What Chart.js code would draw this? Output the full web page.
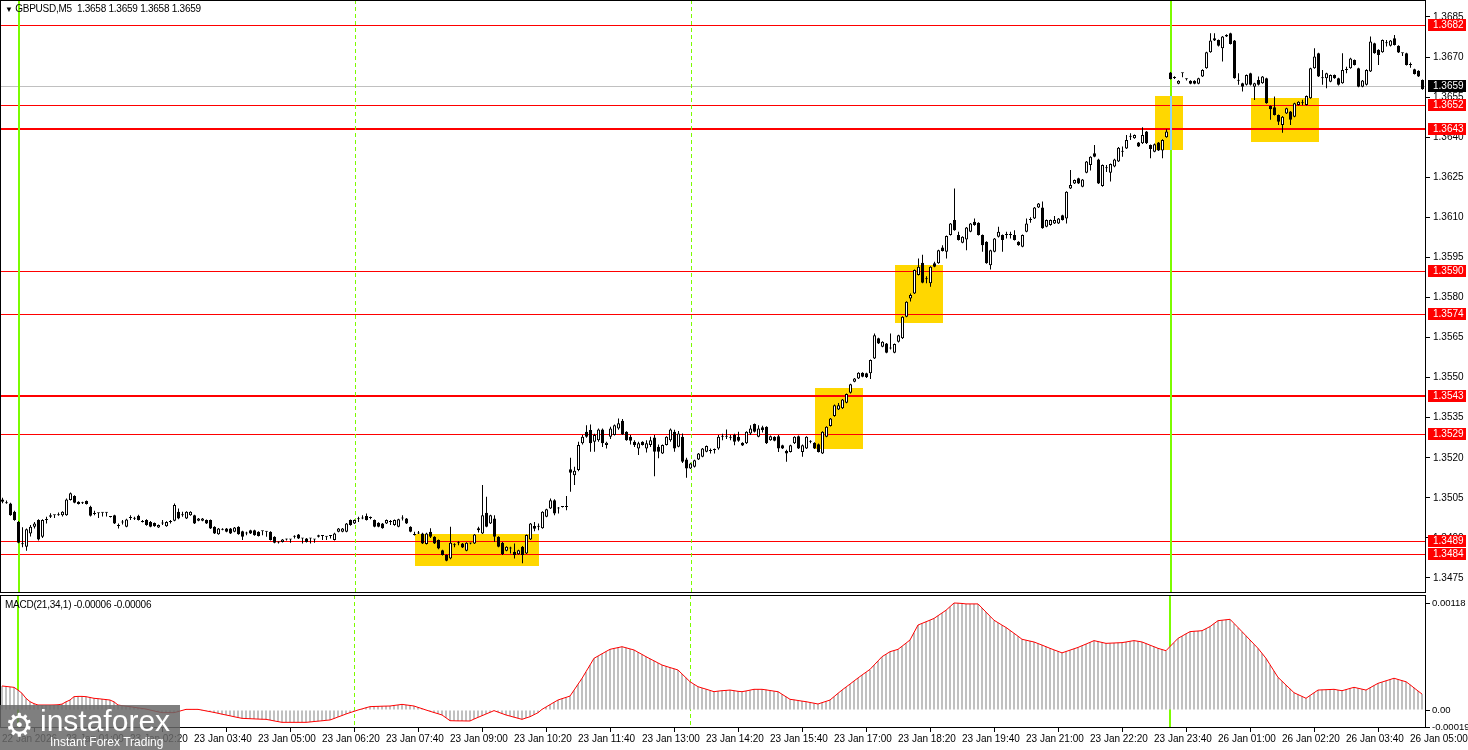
<!DOCTYPE html>
<html>
<head>
<meta charset="utf-8">
<title>GBPUSD M5</title>
<script src="https://cdn.jsdelivr.net/npm/chart.js@4.4.1/dist/chart.umd.min.js"></script>
<style>
  body { margin:0; background:#fff; width:1468px; height:750px; overflow:hidden; position:relative;
         font-family:"Liberation Sans", Arial, sans-serif; }
  canvas { position:absolute; left:0; }
  #priceChart { top:0; }
  #macdChart { top:594px; }
  .caption { position:absolute; font-size:10px; color:#000; white-space:pre; letter-spacing:-0.25px; }
  #logo { position:absolute; left:0; top:705px; width:180px; height:45px; background:rgba(105,105,105,0.85); color:#fff; }
  #logo .gear { position:absolute; left:5px; top:3px; font-size:32px; line-height:34px; font-family:"DejaVu Sans", sans-serif; }
  #logo .brand { position:absolute; left:40px; top:1px; font-size:30px; line-height:30px; }
  #logo .tag { position:absolute; left:50px; top:30px; font-size:12px; line-height:14px; }
</style>
</head>
<body>
<canvas id="priceChart" width="1468" height="594"></canvas>
<canvas id="macdChart" width="1468" height="156"></canvas>
<div class="caption" style="left:5px;top:3px;"><span style="font-size:8px">&#9660;</span> GBPUSD,M5  1.3658 1.3659 1.3658 1.3659</div>
<div class="caption" style="left:5px;top:599px;">MACD(21,34,1) -0.00006 -0.00006</div>
<div id="logo"><span class="gear">&#9881;</span><span class="brand">instaforex</span><span class="tag">Instant Forex Trading</span></div>
<script>
// --- DATA: GBPUSD M5 bars (22 Jan 23:40 .. 26 Jan 05:15) ---
const open = [
1.35044,1.35032,1.35029,1.34998,1.34960,1.34880,1.34867,1.34917,1.34942,1.34967,
1.34904,1.34967,1.34979,1.34985,1.34985,1.34985,1.34985,1.35042,1.35057,1.35035,
1.35030,1.35038,1.35017,1.34990,1.34992,1.34994,1.34994,1.34980,1.34985,1.34945,
1.34958,1.34942,1.34975,1.34972,1.34983,1.34960,1.34967,1.34960,1.34956,1.34939,
1.34954,1.34944,1.34960,1.34964,1.34998,1.34985,1.34973,1.34985,1.34985,1.34964,
1.34964,1.34967,1.34967,1.34942,1.34914,1.34933,1.34935,1.34935,1.34923,1.34942,
1.34925,1.34917,1.34929,1.34929,1.34923,1.34925,1.34923,1.34923,1.34904,1.34885,
1.34885,1.34894,1.34894,1.34904,1.34913,1.34898,1.34898,1.34898,1.34894,1.34904,
1.34907,1.34904,1.34907,1.34892,1.34923,1.34923,1.34923,1.34967,1.34954,1.34970,
1.34973,1.34982,1.34977,1.34967,1.34957,1.34954,1.34954,1.34960,1.34948,1.34942,
1.34973,1.34973,1.34942,1.34911,1.34917,1.34917,1.34877,1.34923,1.34904,1.34892,
1.34854,1.34836,1.34823,1.34873,1.34880,1.34879,1.34852,1.34879,1.34879,1.34929,
1.34917,1.34994,1.34954,1.34973,1.34904,1.34882,1.34852,1.34860,1.34848,1.34839,
1.34867,1.34842,1.34894,1.34945,1.34942,1.34936,1.34979,1.35010,1.35041,1.35010,
1.35016,1.35016,1.35157,1.35135,1.35154,1.35254,1.35297,1.35304,1.35260,1.35266,
1.35306,1.35248,1.35279,1.35285,1.35310,1.35339,1.35297,1.35279,1.35260,1.35235,
1.35260,1.35235,1.35248,1.35276,1.35241,1.35216,1.35248,1.35266,1.35297,1.35241,
1.35279,1.35194,1.35160,1.35166,1.35194,1.35204,1.35223,1.35225,1.35229,1.35235,
1.35279,1.35279,1.35275,1.35285,1.35279,1.35256,1.35254,1.35291,1.35326,1.35279,
1.35314,1.35316,1.35266,1.35279,1.35281,1.35247,1.35225,1.35222,1.35254,1.35281,
1.35222,1.35235,1.35260,1.35256,1.35251,1.35216,1.35279,1.35319,1.35356,1.35381,
1.35385,1.35406,1.35443,1.35485,1.35497,1.35518,1.35516,1.35516,1.35572,1.35647,
1.35616,1.35628,1.35609,1.35593,1.35634,1.35647,1.35728,1.35796,1.35815,1.35884,
1.35930,1.35868,1.35853,1.35928,1.35928,1.35987,1.35971,1.36034,1.36090,1.36034,
1.36005,1.36017,1.36046,1.36084,1.36080,1.36034,1.36009,1.35921,1.35971,1.36027,
1.36034,1.36034,1.36034,1.36034,1.36009,1.35990,1.36046,1.36090,1.36096,1.36137,
1.36137,1.36065,1.36071,1.36077,1.36077,1.36108,1.36096,1.36208,1.36227,1.36246,
1.36215,1.36267,1.36296,1.36340,1.36317,1.36217,1.36284,1.36267,1.36290,1.36309,
1.36346,1.36358,1.36402,1.36396,1.36380,1.36377,1.36421,1.36371,1.36346,1.36380,
1.36350,1.36400,1.36642,1.36624,1.36600,1.36639,1.36617,1.36611,1.36611,1.36600,
1.36627,1.36658,1.36718,1.36770,1.36764,1.36733,1.36777,1.36789,1.36762,1.36611,
1.36602,1.36596,1.36639,1.36589,1.36614,1.36602,1.36621,1.36517,1.36512,1.36483,
1.36446,1.36489,1.36496,1.36477,1.36521,1.36527,1.36521,1.36546,1.36658,1.36714,
1.36621,1.36621,1.36608,1.36633,1.36621,1.36602,1.36652,1.36658,1.36689,1.36658,
1.36589,1.36596,1.36646,1.36752,1.36727,1.36718,1.36752,1.36742,1.36770,1.36742,
1.36714,1.36714,1.36670,1.36654,1.36649,1.36614
];
const high = [
1.35050,1.35040,1.35032,1.35002,1.34963,1.34940,1.34935,1.34948,1.34960,1.34970,
1.34970,1.34979,1.34992,1.34987,1.34995,1.35000,1.35048,1.35070,1.35060,1.35037,
1.35035,1.35040,1.35020,1.35002,1.34994,1.34996,1.34996,1.34982,1.34987,1.34954,
1.34967,1.34972,1.34985,1.34979,1.34987,1.34967,1.34970,1.34963,1.34958,1.34950,
1.34967,1.34962,1.34967,1.35029,1.35010,1.34998,1.35000,1.35000,1.34987,1.34975,
1.34975,1.34969,1.34969,1.34944,1.34937,1.34936,1.34937,1.34937,1.34941,1.34944,
1.34927,1.34923,1.34931,1.34931,1.34925,1.34927,1.34925,1.34925,1.34906,1.34887,
1.34896,1.34897,1.34896,1.34910,1.34915,1.34900,1.34900,1.34900,1.34896,1.34912,
1.34909,1.34906,1.34909,1.34919,1.34937,1.34937,1.34956,1.34969,1.34969,1.34979,
1.34985,1.34991,1.34980,1.34969,1.34959,1.34956,1.34969,1.34967,1.34969,1.34972,
1.34985,1.34975,1.34944,1.34923,1.34926,1.34919,1.34919,1.34936,1.34906,1.34894,
1.34856,1.34838,1.34942,1.34880,1.34888,1.34881,1.34884,1.34882,1.34915,1.34942,
1.35098,1.35054,1.34987,1.34985,1.34906,1.34885,1.34869,1.34867,1.34879,1.34856,
1.34870,1.34913,1.34956,1.34960,1.34954,1.35000,1.35009,1.35048,1.35045,1.35016,
1.35018,1.35057,1.35200,1.35166,1.35260,1.35285,1.35322,1.35325,1.35290,1.35310,
1.35310,1.35260,1.35316,1.35325,1.35347,1.35345,1.35299,1.35285,1.35266,1.35260,
1.35262,1.35266,1.35279,1.35285,1.35250,1.35250,1.35281,1.35310,1.35305,1.35300,
1.35291,1.35200,1.35181,1.35193,1.35218,1.35237,1.35246,1.35235,1.35235,1.35285,
1.35290,1.35306,1.35285,1.35290,1.35297,1.35258,1.35299,1.35322,1.35328,1.35322,
1.35320,1.35318,1.35283,1.35281,1.35285,1.35249,1.35230,1.35249,1.35281,1.35283,
1.35250,1.35281,1.35266,1.35258,1.35253,1.35299,1.35318,1.35349,1.35399,1.35405,
1.35420,1.35441,1.35477,1.35499,1.35520,1.35520,1.35518,1.35568,1.35665,1.35649,
1.35636,1.35630,1.35665,1.35628,1.35661,1.35730,1.35786,1.35815,1.35905,1.35946,
1.35960,1.35880,1.35917,1.35934,1.35979,1.35996,1.36032,1.36079,1.36208,1.36046,
1.36029,1.36064,1.36079,1.36096,1.36082,1.36036,1.36011,1.35979,1.36023,1.36065,
1.36036,1.36046,1.36046,1.36052,1.36011,1.36036,1.36096,1.36100,1.36139,1.36154,
1.36159,1.36092,1.36092,1.36105,1.36098,1.36110,1.36198,1.36277,1.36242,1.36248,
1.36244,1.36311,1.36329,1.36371,1.36319,1.36298,1.36296,1.36302,1.36319,1.36363,
1.36365,1.36408,1.36415,1.36410,1.36382,1.36437,1.36423,1.36373,1.36376,1.36382,
1.36392,1.36430,1.36644,1.36628,1.36613,1.36641,1.36620,1.36613,1.36613,1.36623,
1.36654,1.36720,1.36789,1.36789,1.36766,1.36779,1.36785,1.36791,1.36764,1.36639,
1.36604,1.36635,1.36641,1.36604,1.36627,1.36629,1.36623,1.36519,1.36552,1.36485,
1.36479,1.36510,1.36498,1.36529,1.36535,1.36540,1.36556,1.36660,1.36733,1.36716,
1.36652,1.36641,1.36635,1.36635,1.36623,1.36714,1.36664,1.36697,1.36691,1.36660,
1.36614,1.36654,1.36777,1.36754,1.36729,1.36766,1.36764,1.36764,1.36783,1.36744,
1.36716,1.36716,1.36680,1.36656,1.36651,1.36616
];
const low = [
1.35030,1.35028,1.34983,1.34964,1.34880,1.34865,1.34852,1.34905,1.34935,1.34890,
1.34900,1.34954,1.34975,1.34975,1.34983,1.34980,1.34983,1.35040,1.35030,1.35025,
1.35027,1.35025,1.34980,1.34985,1.34975,1.34980,1.34980,1.34976,1.34952,1.34935,
1.34950,1.34940,1.34967,1.34967,1.34965,1.34958,1.34946,1.34940,1.34942,1.34937,
1.34948,1.34942,1.34954,1.34962,1.34970,1.34979,1.34971,1.34983,1.34952,1.34962,
1.34962,1.34952,1.34933,1.34915,1.34912,1.34929,1.34921,1.34915,1.34921,1.34912,
1.34892,1.34910,1.34915,1.34908,1.34905,1.34910,1.34904,1.34890,1.34880,1.34879,
1.34883,1.34890,1.34882,1.34898,1.34896,1.34879,1.34883,1.34879,1.34882,1.34902,
1.34892,1.34892,1.34898,1.34890,1.34921,1.34921,1.34921,1.34946,1.34952,1.34960,
1.34970,1.34965,1.34970,1.34940,1.34940,1.34934,1.34952,1.34948,1.34946,1.34940,
1.34965,1.34952,1.34921,1.34909,1.34915,1.34877,1.34875,1.34900,1.34877,1.34858,
1.34834,1.34813,1.34820,1.34865,1.34873,1.34862,1.34850,1.34876,1.34877,1.34920,
1.34915,1.34940,1.34952,1.34886,1.34865,1.34836,1.34850,1.34842,1.34823,1.34837,
1.34805,1.34840,1.34892,1.34925,1.34929,1.34934,1.34977,1.35008,1.34985,1.34991,
1.35014,1.35004,1.35073,1.35098,1.35150,1.35250,1.35275,1.35223,1.35223,1.35260,
1.35240,1.35235,1.35270,1.35283,1.35305,1.35285,1.35264,1.35250,1.35240,1.35210,
1.35246,1.35220,1.35240,1.35131,1.35198,1.35214,1.35246,1.35260,1.35223,1.35239,
1.35180,1.35125,1.35158,1.35164,1.35192,1.35202,1.35221,1.35216,1.35216,1.35230,
1.35266,1.35270,1.35266,1.35247,1.35260,1.35244,1.35252,1.35285,1.35295,1.35277,
1.35295,1.35252,1.35264,1.35262,1.35222,1.35233,1.35185,1.35220,1.35252,1.35233,
1.35204,1.35233,1.35254,1.35233,1.35220,1.35214,1.35277,1.35317,1.35354,1.35379,
1.35383,1.35404,1.35441,1.35483,1.35495,1.35501,1.35499,1.35495,1.35570,1.35626,
1.35614,1.35591,1.35605,1.35591,1.35632,1.35645,1.35726,1.35785,1.35813,1.35882,
1.35853,1.35853,1.35840,1.35913,1.35926,1.35972,1.35946,1.36032,1.36050,1.36013,
1.36003,1.35977,1.36044,1.36069,1.36032,1.35971,1.35926,1.35905,1.35969,1.36025,
1.35971,1.36021,1.36021,1.36013,1.35994,1.35988,1.36044,1.36080,1.36094,1.36135,
1.36057,1.36063,1.36069,1.36075,1.36075,1.36088,1.36077,1.36206,1.36225,1.36225,
1.36213,1.36265,1.36275,1.36325,1.36225,1.36215,1.36270,1.36234,1.36288,1.36307,
1.36327,1.36356,1.36390,1.36394,1.36363,1.36375,1.36375,1.36321,1.36344,1.36348,
1.36321,1.36398,1.36616,1.36618,1.36598,1.36624,1.36612,1.36598,1.36598,1.36598,
1.36625,1.36656,1.36716,1.36760,1.36740,1.36683,1.36775,1.36747,1.36619,1.36596,
1.36571,1.36594,1.36594,1.36539,1.36594,1.36600,1.36525,1.36465,1.36481,1.36446,
1.36417,1.36487,1.36446,1.36475,1.36519,1.36520,1.36519,1.36544,1.36656,1.36625,
1.36596,1.36583,1.36606,1.36619,1.36594,1.36600,1.36639,1.36656,1.36668,1.36587,
1.36587,1.36594,1.36644,1.36712,1.36670,1.36716,1.36740,1.36740,1.36743,1.36715,
1.36704,1.36668,1.36660,1.36635,1.36625,1.36578
];
const close = [
1.35035,1.35030,1.34985,1.34967,1.34882,1.34876,1.34932,1.34942,1.34954,1.34894,
1.34967,1.34970,1.34985,1.34985,1.34985,1.34998,1.35044,1.35067,1.35032,1.35027,
1.35030,1.35027,1.34983,1.34990,1.34992,1.34994,1.34994,1.34978,1.34954,1.34945,
1.34958,1.34969,1.34975,1.34972,1.34967,1.34960,1.34948,1.34942,1.34944,1.34948,
1.34954,1.34960,1.34960,1.35023,1.34973,1.34985,1.34998,1.34998,1.34954,1.34973,
1.34973,1.34954,1.34935,1.34917,1.34935,1.34931,1.34923,1.34917,1.34939,1.34914,
1.34904,1.34917,1.34917,1.34910,1.34907,1.34925,1.34923,1.34892,1.34882,1.34883,
1.34894,1.34894,1.34894,1.34904,1.34898,1.34898,1.34885,1.34898,1.34894,1.34910,
1.34907,1.34904,1.34907,1.34917,1.34935,1.34935,1.34954,1.34948,1.34967,1.34970,
1.34973,1.34967,1.34975,1.34942,1.34942,1.34936,1.34967,1.34960,1.34967,1.34970,
1.34973,1.34954,1.34923,1.34911,1.34917,1.34879,1.34917,1.34904,1.34879,1.34860,
1.34836,1.34815,1.34882,1.34873,1.34880,1.34864,1.34882,1.34879,1.34913,1.34936,
1.34985,1.34942,1.34985,1.34904,1.34867,1.34839,1.34867,1.34860,1.34836,1.34854,
1.34836,1.34911,1.34954,1.34934,1.34942,1.34998,1.35007,1.35041,1.34991,1.35010,
1.35016,1.35016,1.35144,1.35151,1.35248,1.35279,1.35279,1.35254,1.35285,1.35306,
1.35254,1.35256,1.35310,1.35322,1.35329,1.35287,1.35266,1.35264,1.35248,1.35254,
1.35248,1.35254,1.35266,1.35223,1.35223,1.35248,1.35279,1.35306,1.35235,1.35291,
1.35185,1.35160,1.35179,1.35191,1.35216,1.35235,1.35244,1.35225,1.35229,1.35279,
1.35279,1.35279,1.35275,1.35260,1.35264,1.35246,1.35297,1.35310,1.35297,1.35310,
1.35304,1.35254,1.35281,1.35264,1.35235,1.35235,1.35216,1.35247,1.35279,1.35235,
1.35247,1.35279,1.35260,1.35235,1.35222,1.35297,1.35316,1.35347,1.35397,1.35397,
1.35418,1.35439,1.35475,1.35497,1.35518,1.35503,1.35501,1.35566,1.35659,1.35628,
1.35634,1.35593,1.35609,1.35626,1.35659,1.35728,1.35784,1.35809,1.35903,1.35915,
1.35855,1.35868,1.35915,1.35915,1.35977,1.35974,1.36030,1.36077,1.36052,1.36015,
1.36027,1.36062,1.36077,1.36071,1.36034,1.35996,1.35928,1.35977,1.36021,1.36046,
1.36015,1.36034,1.36034,1.36015,1.35996,1.36034,1.36077,1.36090,1.36137,1.36152,
1.36059,1.36090,1.36090,1.36090,1.36096,1.36090,1.36196,1.36221,1.36240,1.36227,
1.36242,1.36309,1.36327,1.36327,1.36227,1.36296,1.36284,1.36300,1.36317,1.36361,
1.36346,1.36390,1.36402,1.36408,1.36365,1.36408,1.36377,1.36356,1.36374,1.36350,
1.36390,1.36421,1.36618,1.36622,1.36611,1.36639,1.36617,1.36600,1.36600,1.36621,
1.36652,1.36718,1.36762,1.36762,1.36742,1.36777,1.36783,1.36749,1.36621,1.36611,
1.36589,1.36633,1.36596,1.36602,1.36596,1.36627,1.36527,1.36505,1.36483,1.36458,
1.36477,1.36508,1.36465,1.36527,1.36533,1.36527,1.36554,1.36658,1.36702,1.36627,
1.36621,1.36639,1.36633,1.36621,1.36596,1.36652,1.36652,1.36695,1.36670,1.36589,
1.36612,1.36652,1.36758,1.36714,1.36708,1.36764,1.36752,1.36762,1.36745,1.36717,
1.36714,1.36670,1.36670,1.36637,1.36627,1.36580
];

// MACD(21,34,1) main value per bar; signal is SMA(1) so it is the same curve
const macd = [
26.5e-5,26e-5,25.5e-5,25e-5,22e-5,18.4e-5,12.9e-5,9.2e-5,7e-5,5.5e-5,
5.5e-5,5.5e-5,5.5e-5,5.6e-5,5.8e-5,6.5e-5,9e-5,11e-5,14.7e-5,15e-5,
15e-5,14.7e-5,13.8e-5,12.9e-5,12.5e-5,12e-5,11.5e-5,11e-5,9e-5,5.5e-5,
4.8e-5,4.2e-5,3.7e-5,3e-5,2.3e-5,1.7e-5,1.1e-5,0,-1e-5,-2e-5,
-2.9e-5,-2.9e-5,-2.9e-5,-2.9e-5,-1.8e-5,-0.5e-5,0.7e-5,0.7e-5,0.7e-5,0.7e-5,
-0.1e-5,-1e-5,-1.8e-5,-2.7e-5,-3.6e-5,-4.6e-5,-5.5e-5,-6.4e-5,-7.4e-5,-8.3e-5,
-9.2e-5,-9.4e-5,-9.6e-5,-9.8e-5,-10e-5,-10.2e-5,-10.3e-5,-11.1e-5,-12e-5,-12.8e-5,
-13.6e-5,-13.6e-5,-13.6e-5,-13.6e-5,-13.6e-5,-13.6e-5,-13.6e-5,-13.2e-5,-12.7e-5,-12.3e-5,
-11.9e-5,-11.4e-5,-11e-5,-9.4e-5,-7.7e-5,-6.1e-5,-4.4e-5,-2.9e-5,-1.5e-5,0,
1.2e-5,2.5e-5,3.7e-5,3.9e-5,4e-5,4.2e-5,4.3e-5,4.4e-5,5e-5,5.6e-5,
6.2e-5,5.6e-5,5e-5,4.4e-5,2.9e-5,1.5e-5,0,-1.4e-5,-2.8e-5,-4.1e-5,
-5.5e-5,-8.6e-5,-11.8e-5,-11.9e-5,-12e-5,-12e-5,-12.1e-5,-12.1e-5,-10e-5,-8.1e-5,
-6.3e-5,-4.4e-5,-2.6e-5,-0.7e-5,-2.3e-5,-3.9e-5,-5.5e-5,-6.7e-5,-7.9e-5,-9.1e-5,
-10.3e-5,-8.8e-5,-7.4e-5,-5.2e-5,-3e-5,0.7e-5,3.3e-5,5.9e-5,8.5e-5,11e-5,
12.5e-5,13.9e-5,15.4e-5,21.9e-5,28.4e-5,34.9e-5,42.3e-5,49.6e-5,57e-5,59.5e-5,
62e-5,64.5e-5,66.9e-5,67.9e-5,68.8e-5,69.8e-5,68.6e-5,67.4e-5,66.2e-5,63.7e-5,
61.3e-5,58.8e-5,56.5e-5,54.2e-5,51.9e-5,49.6e-5,48.2e-5,46.8e-5,45.5e-5,44.1e-5,
39.8e-5,35.5e-5,31.2e-5,28.4e-5,25.7e-5,24.3e-5,23e-5,21.6e-5,20.2e-5,20.8e-5,
21.3e-5,21.6e-5,22e-5,21.3e-5,20.6e-5,20.2e-5,21e-5,21.9e-5,22.8e-5,22.8e-5,
22.8e-5,22.2e-5,21.5e-5,20.8e-5,20.2e-5,17.4e-5,14.6e-5,11.8e-5,11.2e-5,10.5e-5,
9.8e-5,9.2e-5,8.3e-5,7.5e-5,6.6e-5,8.1e-5,9.5e-5,11e-5,14.7e-5,18.4e-5,
22e-5,25.3e-5,28.6e-5,32e-5,35.3e-5,38.6e-5,41.7e-5,44.8e-5,49.5e-5,54.1e-5,
58.8e-5,61.5e-5,64.3e-5,65.6e-5,66.9e-5,70.3e-5,73.7e-5,77.2e-5,85.5e-5,93.7e-5,
95.5e-5,97.3e-5,99.1e-5,101e-5,104e-5,107e-5,110e-5,114e-5,118e-5,117.8e-5,
117.5e-5,117e-5,117e-5,117e-5,117e-5,112.5e-5,108e-5,103.5e-5,99e-5,96.3e-5,
93.6e-5,91e-5,87.8e-5,84.6e-5,81.4e-5,78e-5,77e-5,76e-5,75e-5,73.3e-5,
71.6e-5,69.8e-5,68e-5,66.3e-5,64.7e-5,63e-5,64.5e-5,66e-5,67.5e-5,69e-5,
70.9e-5,72.7e-5,74.6e-5,76.5e-5,75.5e-5,74.5e-5,73.5e-5,73.7e-5,73.9e-5,74.1e-5,
74.3e-5,75e-5,75.8e-5,76.5e-5,75.8e-5,75e-5,73.3e-5,71.5e-5,69.8e-5,68e-5,
66.7e-5,65.4e-5,70e-5,74.5e-5,79e-5,81.5e-5,84e-5,86.4e-5,86.8e-5,87.1e-5,
87.5e-5,89.7e-5,92e-5,95.3e-5,98.5e-5,99e-5,99.5e-5,100e-5,95.5e-5,91e-5,
86.4e-5,81.8e-5,77.2e-5,72.6e-5,68e-5,62.5e-5,57e-5,50e-5,43e-5,36e-5,
31.8e-5,27.5e-5,23.3e-5,19.1e-5,17e-5,15e-5,12.9e-5,16e-5,19e-5,22e-5,
22.2e-5,22.4e-5,22.6e-5,22.8e-5,22e-5,21.3e-5,22.5e-5,23.8e-5,25e-5,24e-5,
23e-5,22e-5,24.5e-5,27e-5,29.4e-5,30.8e-5,32.2e-5,33.6e-5,35e-5,33.7e-5,
32.4e-5,31.2e-5,27.9e-5,24.4e-5,21e-5,17.6e-5
];

// axis labels
const priceTicks = [1.3475,1.3490,1.3505,1.3520,1.3535,1.3550,1.3565,1.3580,1.3595,1.3610,1.3625,1.3640,1.3655,1.3670,1.3685];
const macdTicks = [0.00118, 0, -0.00019];
// one label every 16 bars, starting at bar 0
const timeLabels = ['22 Jan 2026','23 Jan 01:00','23 Jan 02:20','23 Jan 03:40','23 Jan 05:00','23 Jan 06:20',
  '23 Jan 07:40','23 Jan 09:00','23 Jan 10:20','23 Jan 11:40','23 Jan 13:00','23 Jan 14:20','23 Jan 15:40',
  '23 Jan 17:00','23 Jan 18:20','23 Jan 19:40','23 Jan 21:00','23 Jan 22:20','23 Jan 23:40','26 Jan 01:00',
  '26 Jan 02:20','26 Jan 03:40','26 Jan 05:00'];

// horizontal levels, bid line, vertical markers, zones (bar index / price)
const levels = [1.3682, 1.3652, 1.3643, 1.3590, 1.3574, 1.3543, 1.3529, 1.3489, 1.3484];
const strongLevels = [1.3643, 1.3543];
const bidPrice = 1.3659;
const dayBars = [4, 292];
const sessionBars = [88, 172];
const zoneFrom = [103, 203, 223, 288, 312];
const zoneTo = [134, 215, 235, 295, 329];
const zoneHigh = [1.34915, 1.35461, 1.35922, 1.36554, 1.36547];
const zoneLow = [1.34795, 1.35233, 1.35705, 1.36352, 1.36382];

// --- SETUP ---
const FONT = "'Liberation Sans', Arial, sans-serif";
Chart.defaults.font.family = FONT;
Chart.defaults.font.size = 10;
Chart.defaults.color = '#000';

const LIME = '#7cfc00';
const AXIS_W = 42;

// keep chart.js from padding the plot area for the end labels
function noPad(s) { s.paddingTop = 0; s.paddingBottom = 0; s.paddingLeft = 0; s.paddingRight = 0; }

function drawVerticals(ctx, a, xs) {
    ctx.fillStyle = LIME;
    dayBars.forEach(b => {
        const px = Math.round(xs.getPixelForValue(b));
        ctx.fillRect(px - 1, a.top, 2, a.bottom - a.top);
    });
    ctx.strokeStyle = LIME;
    ctx.lineWidth = 1;
    ctx.setLineDash([4, 3]);
    sessionBars.forEach(b => {
        const px = Math.round(xs.getPixelForValue(b)) + 0.5;
        ctx.beginPath(); ctx.moveTo(px, a.top); ctx.lineTo(px, a.bottom); ctx.stroke();
    });
    ctx.setLineDash([]);
}

function drawFrame(chart) {
    const {ctx, chartArea: a} = chart;
    ctx.save();
    ctx.strokeStyle = '#000';
    ctx.lineWidth = 1;
    ctx.strokeRect(a.left + 0.5, a.top + 0.5, a.right - a.left - 1, a.bottom - a.top - 1);
    ctx.restore();
}

function priceTag(ctx, a, py, text, color) {
    ctx.fillStyle = color;
    ctx.fillRect(a.right + 2, py - 6, 38, 12);
    ctx.fillStyle = '#fff';
    ctx.textBaseline = 'middle';
    ctx.textAlign = 'left';
    ctx.font = '10px ' + FONT;
    ctx.fillText(text, a.right + 7, py + 0.5);
}

const priceOverlay = {
    id: 'priceOverlay',
    beforeDatasetsDraw(chart) {
        const {ctx, chartArea: a, scales: {x, y}} = chart;
        ctx.save();
        ctx.beginPath(); ctx.rect(a.left, a.top, a.right - a.left, a.bottom - a.top); ctx.clip();
        // yellow zones
        ctx.fillStyle = '#ffd700';
        zoneFrom.forEach((b, k) => {
            const x1 = Math.round(x.getPixelForValue(b)), x2 = Math.round(x.getPixelForValue(zoneTo[k]));
            const y1 = Math.round(y.getPixelForValue(zoneHigh[k])), y2 = Math.round(y.getPixelForValue(zoneLow[k]));
            ctx.fillRect(x1, y1, x2 - x1, y2 - y1);
        });
        // bid line
        ctx.fillStyle = '#c0c0c0';
        ctx.fillRect(a.left, Math.round(y.getPixelForValue(bidPrice)), a.right - a.left, 1);
        // levels
        ctx.fillStyle = '#ff0000';
        levels.forEach(v => {
            const py = Math.round(y.getPixelForValue(v));
            const w = strongLevels.includes(v) ? 2 : 1;
            ctx.fillRect(a.left, py - (w - 1), a.right - a.left, w);
        });
        drawVerticals(ctx, a, x);
        // where the day line crosses a zone the terminal shows it light blue
        ctx.fillStyle = '#8cd2f5';
        dayBars.forEach(b => {
            zoneFrom.forEach((f, k) => {
                if (b < f || b > zoneTo[k]) return;
                const px = Math.round(x.getPixelForValue(b));
                const y1 = Math.round(y.getPixelForValue(zoneHigh[k])), y2 = Math.round(y.getPixelForValue(zoneLow[k]));
                ctx.fillRect(px - 1, y1, 2, y2 - y1);
            });
        });
        ctx.restore();
    },
    afterDraw(chart) {
        const {ctx, chartArea: a, scales: {y}} = chart;
        drawFrame(chart);
        ctx.save();
        levels.forEach(v => priceTag(ctx, a, Math.round(y.getPixelForValue(v)), v.toFixed(4), '#ff0000'));
        priceTag(ctx, a, Math.round(y.getPixelForValue(bidPrice)), bidPrice.toFixed(4), '#000');
        ctx.restore();
    }
};

const macdOverlay = {
    id: 'macdOverlay',
    beforeDatasetsDraw(chart) {
        const {ctx, chartArea: a, scales: {x}} = chart;
        ctx.save();
        drawVerticals(ctx, a, x);
        ctx.restore();
    },
    afterDraw(chart) { drawFrame(chart); }
};

// --- PRICE CHART (candles from floating bars) ---
const bodies = close.map((c, i) => ({x: i, y: [Math.min(open[i], c), Math.max(open[i], c)]}));
const wicks = close.map((c, i) => ({x: i, y: [low[i], high[i]]}));
const bodyFill = close.map((c, i) => c >= open[i] ? '#ffffff' : '#000000');

// bar i sits at 4*i + 2.5 px
const xMinPrice = -0.625, xMaxPrice = -0.625 + (1468 - AXIS_W) / 4;
const yMaxPrice = 1.3685 + 17 / 26714;
const yMinPrice = 1.3685 - 576 / 26714;

new Chart(document.getElementById('priceChart'), {
    type: 'bar',
    data: {
        datasets: [
            { data: bodies, backgroundColor: bodyFill, borderColor: '#000', borderWidth: 1, borderSkipped: false,
              barThickness: 3, minBarLength: 1, grouped: false, inflateAmount: 0, order: 0 },
            { data: wicks, backgroundColor: '#000', borderWidth: 0, barThickness: 1, grouped: false,
              inflateAmount: 0, order: 1 }
        ]
    },
    options: {
        responsive: false, animation: false, devicePixelRatio: 1,
        layout: { padding: { left: 0, right: 0, top: 0, bottom: 1 } },
        plugins: { legend: { display: false }, tooltip: { enabled: false } },
        scales: {
            x: { type: 'linear', display: false, min: xMinPrice, max: xMaxPrice, offset: false },
            y: {
                position: 'right', min: yMinPrice, max: yMaxPrice,
                afterFit(s) { s.width = AXIS_W; noPad(s); },
                afterBuildTicks(s) { s.ticks = priceTicks.map(v => ({value: v})); },
                ticks: { callback: v => v.toFixed(4), padding: 3, autoSkip: false },
                grid: { drawOnChartArea: false, tickLength: 4, color: '#000' },
                border: { display: false }
            }
        }
    },
    plugins: [priceOverlay]
});

// --- MACD CHART ---
const macdPoints = macd.map((v, i) => ({x: i, y: v}));

new Chart(document.getElementById('macdChart'), {
    type: 'bar',
    data: {
        datasets: [
            { type: 'line', data: macdPoints, borderColor: '#ff0000', borderWidth: 1, pointRadius: 0, tension: 0, order: 0 },
            { data: macdPoints, backgroundColor: '#c0c0c0', borderWidth: 0, barThickness: 2, grouped: false,
              inflateAmount: 0, order: 1 }
        ]
    },
    options: {
        responsive: false, animation: false, devicePixelRatio: 1,
        layout: { padding: { left: 0, right: 0, top: 1, bottom: 0 } },
        plugins: { legend: { display: false }, tooltip: { enabled: false } },
        scales: {
            x: {
                type: 'linear', min: -0.5, max: -0.5 + (1468 - AXIS_W) / 4, offset: false,
                afterFit(s) { s.height = 22; noPad(s); },
                afterBuildTicks(s) { s.ticks = timeLabels.map((t, k) => ({value: k * 16})); },
                ticks: { callback: (v, k) => timeLabels[k], align: 'start', maxRotation: 0, autoSkip: false, padding: 1 },
                grid: { drawOnChartArea: false, tickLength: 4, color: '#000' },
                border: { display: false }
            },
            y: {
                position: 'right', min: -18 / 90677, max: 115 / 90677,
                afterFit(s) { s.width = AXIS_W; noPad(s); },
                afterBuildTicks(s) { s.ticks = macdTicks.map(v => ({value: v})); },
                ticks: { callback: v => v === 0 ? '0.00' : v.toFixed(5), padding: 2, autoSkip: false, font: { size: 9.5 } },
                grid: { drawOnChartArea: false, tickLength: 4, color: '#000' },
                border: { display: false }
            }
        }
    },
    plugins: [macdOverlay]
});
</script>
</body>
</html>
